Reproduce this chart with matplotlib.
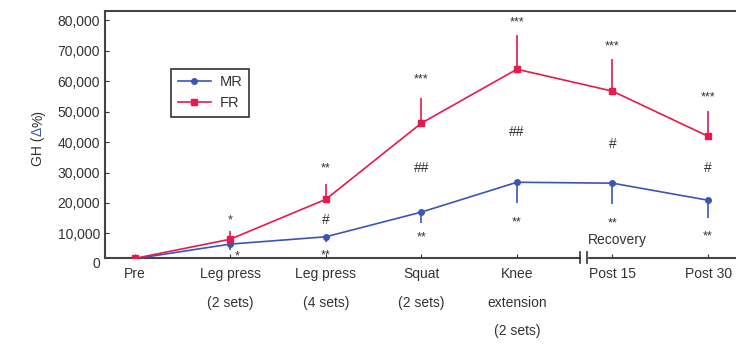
import matplotlib.pyplot as plt
from matplotlib.lines import Line2D
import numpy as np

stages = ["Pre", "Leg press\n(2 sets)", "Leg press\n(4 sets)", "Squat\n(2 sets)",
          "Knee\nextension\n(2 sets)", "Post 15", "Post 30"]
fr_mean = [1800, 8100, 21200, 46200, 63900, 56700, 41900]
fr_err = [0, 2600, 5000, 8200, 11200, 10500, 8200]
mr_mean = [1700, 6500, 8900, 17000, 26800, 26500, 20900]
mr_err = [0, 2000, 1800, 3600, 6900, 6900, 5900]

# significance labels (FR vs baseline, FR vs MR, MR vs baseline)
fr_marks = ["", "*", "**", "***", "***", "***", "***"]
fr_mark_y = [0, 13400, 30400, 59700, 78400, 70500, 53800]
hash_marks = ["", "", "#", "##", "##", "#", "#"]
hash_y = [0, 0, 13000, 30100, 41900, 38000, 30100]
mr_marks = ["", "*", "**", "**", "**", "**", "**"]
mr_mark_y = [0, 1500, 1900, 7800, 12700, 12400, 8100]

RED = "#e8194c"
BLUE = "#3b55b5"
GREY = "#333333"

plt.rcParams["font.family"] = ["Liberation Sans", "DejaVu Sans"]
fig = plt.figure(figsize=(7.36, 3.45), dpi=100)
ax = fig.add_axes([0.1427, 0.2536, 0.857, 0.7144])

x = np.arange(len(stages))
ax.errorbar(x, mr_mean, yerr=[mr_err, [0] * len(x)], color=BLUE, marker="o",
            ms=4, lw=1.2, elinewidth=1.2, capsize=0, zorder=3)
ax.errorbar(x, fr_mean, yerr=[[0] * len(x), fr_err], color=RED, marker="s",
            ms=4, lw=1.2, elinewidth=1.2, capsize=0, zorder=4)

for i in x:
    if fr_marks[i]:
        ax.text(i, fr_mark_y[i], fr_marks[i], ha="center", va="baseline",
                fontsize=9, color=GREY)
    if hash_marks[i]:
        ax.text(i, hash_y[i], hash_marks[i], ha="center", va="baseline",
                fontsize=10, color=GREY)
    if mr_marks[i]:
        dx = 0.07 if i == 1 else 0
        ax.text(i + dx, mr_mark_y[i], mr_marks[i], ha="center", va="baseline",
                fontsize=9, color=GREY)

ax.text(5.05, 7800, "Recovery", ha="center", va="center", fontsize=10,
        color=GREY)

# axis break between exercise and recovery
bx = 4.7
ax.fill_between([bx - 0.03, bx + 0.03], 0, 4000, color="white",
                zorder=5, clip_on=False)
for xx in (bx - 0.035, bx + 0.035):
    ax.plot([xx, xx], [300, 3900], color=GREY, lw=1.2, clip_on=False,
            zorder=6)

ax.set_xlim(-0.31, 6.29)
ax.set_ylim(2100, 83000)
ax.set_yticks(np.arange(10000, 80001, 10000))
ax.set_yticklabels([f"{v:,}" for v in range(10000, 80001, 10000)])
ax.annotate("0", xy=(0, 0), xycoords=("axes fraction", "data"),
            xytext=(-3.5, 0), textcoords="offset points", ha="right",
            va="center", fontsize=10, color=GREY, annotation_clip=False)
ax.set_xticks(x)
ax.set_xticklabels(stages, linespacing=2.3, va="top")
ax.tick_params(axis="both", direction="in", length=3, labelsize=10,
               labelcolor=GREY, color=GREY)
ax.tick_params(axis="x", pad=7)

for side in ("left", "bottom", "top"):
    ax.spines[side].set_linewidth(1.5)
    ax.spines[side].set_color("#444444")
ax.spines["right"].set_visible(False)

# y label in pieces so the delta can be blue
renderer = fig.canvas.get_renderer()
ypos = 1 - 166 / 345
for piece, col in (("GH (", GREY), ("\u0394", BLUE), ("%)", GREY)):
    t = fig.text(38 / 736, ypos, piece, rotation=90, rotation_mode="anchor",
                 ha="left", va="center", fontsize=10, color=col)
    bb = t.get_window_extent(renderer)
    ypos += bb.height / fig.bbox.height

handles = [Line2D([], [], color=BLUE, marker="o", ms=4, lw=1.2),
           Line2D([], [], color=RED, marker="s", ms=4, lw=1.2)]
leg = ax.legend(handles, ["MR", "FR"], loc="upper left",
                bbox_to_anchor=(0.093, 0.795), fontsize=10.5, frameon=True,
                fancybox=False, edgecolor="black", handlelength=2.3,
                borderpad=0.45, labelspacing=0.45, handletextpad=0.6)
leg.get_frame().set_linewidth(1.2)
for t in leg.get_texts():
    t.set_color(GREY)

fig.savefig("out.png", dpi=100)
